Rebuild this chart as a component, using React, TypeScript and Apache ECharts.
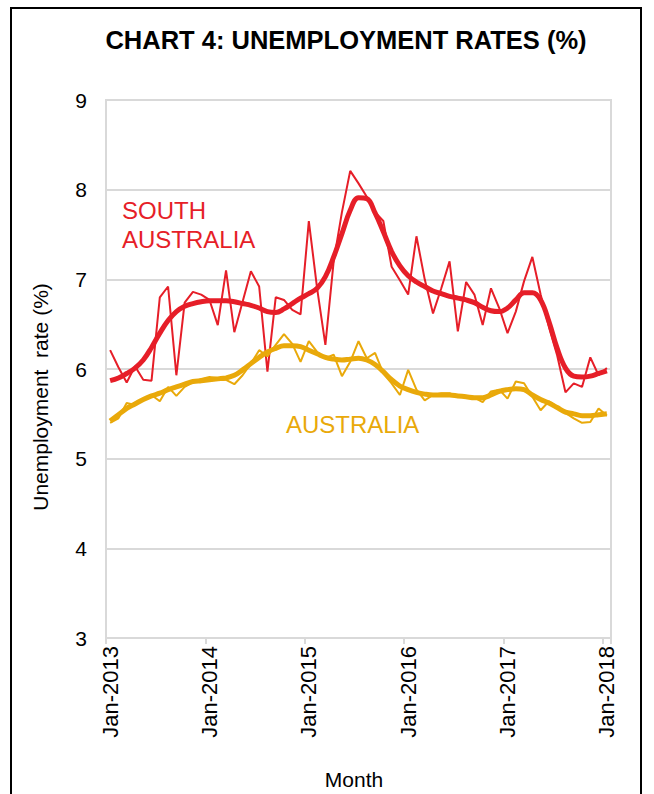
import React, { useEffect, useRef } from "react";
import * as echarts from "echarts";

const MONTHS = ["Jan", "Feb", "Mar", "Apr", "May", "Jun", "Jul", "Aug", "Sep", "Oct", "Nov", "Dec"];
const START_YEAR = 2013;
const N_POINTS = 61;
const categories: string[] = Array.from({ length: N_POINTS }, (_, i) => `${MONTHS[i % 12]}-${START_YEAR + Math.floor(i / 12)}`);

const SA_ORIGINAL = [
  6.21, 6.02, 5.85, 6.03, 5.88, 5.87, 6.80, 6.92, 5.93, 6.74, 6.86, 6.83,
  6.77, 6.49, 7.10, 6.41, 6.75, 7.09, 6.92, 5.97, 6.80, 6.77, 6.66, 6.61,
  7.65, 6.90, 6.27, 7.20, 7.75, 8.21, 8.07, 7.92, 7.75, 7.65, 7.14, 6.99,
  6.83, 7.48, 7.00, 6.62, 6.90, 7.20, 6.42, 6.97, 6.83, 6.49, 6.90, 6.68,
  6.40, 6.64, 6.98, 7.25, 6.83, 6.47, 6.15, 5.74, 5.84, 5.80, 6.13, 5.93,
  6.01,
];
const SA_TREND = [
  5.87, 5.90, 5.95, 6.01, 6.10, 6.24, 6.40, 6.54, 6.64, 6.70, 6.73, 6.75,
  6.76, 6.76, 6.76, 6.75, 6.73, 6.71, 6.68, 6.64, 6.63, 6.67, 6.73, 6.79,
  6.84, 6.90, 7.03, 7.25, 7.51, 7.77, 7.91, 7.90, 7.74, 7.53, 7.31, 7.15,
  7.04, 6.97, 6.92, 6.87, 6.84, 6.81, 6.79, 6.77, 6.74, 6.69, 6.65, 6.64,
  6.68, 6.77, 6.85, 6.85, 6.77, 6.53, 6.23, 6.01, 5.92, 5.91, 5.92, 5.95,
  5.98,
];
const AUS_ORIGINAL = [
  5.40, 5.45, 5.62, 5.60, 5.66, 5.71, 5.64, 5.80, 5.70, 5.80, 5.85, 5.89,
  5.91, 5.90, 5.88, 5.83, 5.93, 6.06, 6.21, 6.14, 6.27, 6.39, 6.28, 6.08,
  6.31, 6.19, 6.12, 6.16, 5.92, 6.08, 6.31, 6.12, 6.18, 5.95, 5.84, 5.71,
  5.99, 5.77, 5.65, 5.71, 5.73, 5.73, 5.69, 5.69, 5.68, 5.63, 5.75, 5.77,
  5.67, 5.86, 5.84, 5.69, 5.54, 5.64, 5.58, 5.51, 5.45, 5.40, 5.41, 5.56,
  5.48,
];
const AUS_TREND = [
  5.42, 5.49, 5.56, 5.61, 5.66, 5.70, 5.73, 5.77, 5.80, 5.83, 5.86, 5.87,
  5.88, 5.89, 5.90, 5.93, 5.99, 6.06, 6.13, 6.19, 6.23, 6.26, 6.26, 6.25,
  6.21, 6.17, 6.13, 6.11, 6.10, 6.11, 6.12, 6.10, 6.05, 5.97, 5.88, 5.81,
  5.77, 5.74, 5.72, 5.71, 5.71, 5.71, 5.70, 5.69, 5.68, 5.68, 5.71, 5.75,
  5.77, 5.78, 5.77, 5.71, 5.66, 5.62, 5.57, 5.52, 5.50, 5.48, 5.48, 5.49,
  5.50,
];

const RED = "#E61E28";
const ORANGE = "#E9A90A";
const FONT = "'Liberation Sans', Arial, sans-serif";

export default function App() {
  const ref = useRef<HTMLDivElement>(null);
  useEffect(() => {
    if (!ref.current) return;
    const chart = echarts.init(ref.current, null, { renderer: "svg" });
    chart.setOption({
      animation: false,
      backgroundColor: "#ffffff",
      grid: {
        left: 106,
        right: 43,
        top: 100,
        bottom: 156,
        show: true,
        borderColor: "#D9D9D9",
        borderWidth: 2,
      },
      xAxis: {
        type: "category",
        data: categories,
        boundaryGap: true,
        axisLine: { show: true, lineStyle: { color: "#D9D9D9", width: 2 } },
        axisTick: { show: true, interval: 11, length: 6, lineStyle: { color: "#D9D9D9", width: 2 } },
        axisLabel: {
          interval: 11,
          rotate: 90,
          margin: 8,
          color: "#000",
          fontSize: 22,
          fontFamily: FONT,
        },
        splitLine: { show: false },
      },
      yAxis: {
        type: "value",
        min: 3,
        max: 9,
        interval: 1,
        axisLine: { show: false },
        axisTick: { show: false },
        axisLabel: { color: "#000", fontSize: 21, fontFamily: FONT, margin: 19 },
        splitLine: { show: true, lineStyle: { color: "#D9D9D9", width: 2 } },
      },
      series: [
        {
          name: "South Australia",
          type: "line",
          data: SA_ORIGINAL,
          showSymbol: false,
          lineStyle: { color: RED, width: 2 },
          itemStyle: { color: RED },
        },
        {
          name: "South Australia trend",
          type: "line",
          data: SA_TREND,
          smooth: 0.4,
          showSymbol: false,
          lineStyle: { color: RED, width: 5 },
          itemStyle: { color: RED },
        },
        {
          name: "Australia",
          type: "line",
          data: AUS_ORIGINAL,
          showSymbol: false,
          lineStyle: { color: ORANGE, width: 2 },
          itemStyle: { color: ORANGE },
        },
        {
          name: "Australia trend",
          type: "line",
          data: AUS_TREND,
          smooth: 0.4,
          showSymbol: false,
          lineStyle: { color: ORANGE, width: 5 },
          itemStyle: { color: ORANGE },
        },
      ],
      graphic: [
        {
          type: "rect",
          shape: { x: 11, y: 8, width: 630, height: 820 },
          style: { fill: "none", stroke: "#000", lineWidth: 2 },
          silent: true,
        },
        {
          type: "text",
          x: 346,
          y: 40,
          style: {
            text: "CHART 4: UNEMPLOYMENT RATES (%)",
            fontSize: 25.5,
            fontWeight: "bold",
            fontFamily: FONT,
            fill: "#000",
            align: "center",
            verticalAlign: "middle",
          },
        },
        {
          type: "text",
          x: 122,
          y: 196,
          style: {
            text: "SOUTH\nAUSTRALIA",
            fontSize: 24,
            lineHeight: 29,
            fontFamily: FONT,
            fill: RED,
            align: "left",
            verticalAlign: "top",
          },
        },
        {
          type: "text",
          x: 286,
          y: 424,
          style: {
            text: "AUSTRALIA",
            fontSize: 24,
            fontFamily: FONT,
            fill: ORANGE,
            align: "left",
            verticalAlign: "middle",
          },
        },
        {
          type: "text",
          x: 40,
          y: 397,
          rotation: Math.PI / 2,
          style: {
            text: "Unemployment  rate (%)",
            fontSize: 21,
            fontFamily: FONT,
            fill: "#000",
            align: "center",
            verticalAlign: "middle",
          },
        },
        {
          type: "text",
          x: 354,
          y: 779,
          style: {
            text: "Month",
            fontSize: 21,
            fontFamily: FONT,
            fill: "#000",
            align: "center",
            verticalAlign: "middle",
          },
        },
      ],
    });
    return () => chart.dispose();
  }, []);
  return (
    <div
      ref={ref}
      style={{ position: "fixed", left: 0, top: 0, width: 654, height: 794, background: "#fff" }}
    />
  );
}
